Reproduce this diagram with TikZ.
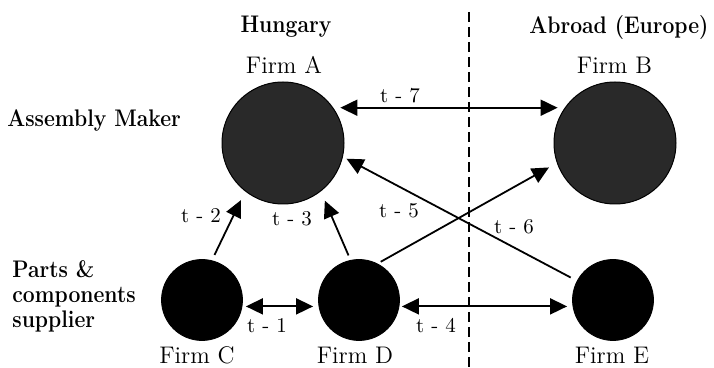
\documentclass[tikz,border=0pt]{standalone}
\usetikzlibrary{arrows.meta}
\newcommand\hdtext[1]{\scalebox{0.88}[1]{\bfseries #1}}
\begin{document}
\begin{tikzpicture}[x=0.5pt,y=-0.5pt,
  bigfirm/.style={circle,inner sep=0pt,minimum size=61pt,draw=black,line width=0.5pt,fill=black!84},
  smallfirm/.style={circle,inner sep=0pt,minimum size=40.5pt,fill=black,draw=black},
  firmlabel/.style={anchor=base,inner sep=0pt,font=\fontsize{12}{14}\selectfont},
  tlabel/.style={anchor=base,inner sep=0pt,font=\fontsize{10.5}{12}\selectfont},
  headlabel/.style={inner sep=0pt,font=\fontsize{12}{12.5}\selectfont},
  conn/.style={line width=0.9pt},
  sgl/.style={conn,-{Triangle[length=8.5pt,width=8pt]}},
  dbl/.style={conn,{Triangle[length=8.5pt,width=8pt]}-{Triangle[length=8.5pt,width=8pt]}}]
\useasboundingbox (0,0) rectangle (714,368);

% divider
\coordinate (dtop) at (469,12);
\coordinate (dbot) at (469,368);
\draw[line width=0.7pt,dash pattern=on 5pt off 2.5pt] (dtop) -- (dbot);

% headers
\node[headlabel,anchor=base] (hun) at (286,33) {\hdtext{Hungary}};
\node[headlabel,anchor=base west] (abr) at (529,34) {\hdtext{Abroad (Europe)}};
\node[headlabel,anchor=base west] (asm) at (7,127) {\hdtext{Assembly Maker}};
\node[headlabel,anchor=base west] (pcs) at (12,278) {\scalebox{0.88}[1]{\bfseries\begin{tabular}[t]{@{}l@{}}Parts \&\\components\\supplier\end{tabular}}};

% firms
\node[bigfirm] (A) at (283,143) {};
\node[bigfirm] (B) at (615,143) {};
\node[smallfirm] (C) at (202,300) {};
\node[smallfirm] (D) at (359,300) {};
\node[smallfirm] (E) at (613,300) {};

\node[firmlabel] (lA) at (284,74) {Firm A};
\node[firmlabel] (lB) at (614.5,74) {Firm B};
\node[firmlabel] (lC) at (197,364) {Firm C};
\node[firmlabel] (lD) at (355,364) {Firm D};
\node[firmlabel] (lE) at (612,364) {Firm E};

% connectors
\draw[dbl,shorten <=3.5pt,shorten >=3.5pt] (A.35) -- (B.145);
\draw[dbl,shorten <=1.75pt,shorten >=2.75pt] (C.-9) -- (D.189);
\draw[dbl,shorten <=1.25pt,shorten >=2.75pt] (D.-9) -- (E.189);
\draw[sgl,shorten <=3pt,shorten >=4.8pt] (C.76) -- (A.232);
\draw[sgl,shorten <=2.5pt,shorten >=5pt] (D.102) -- (A.308);
\draw[sgl,shorten <=1.8pt,shorten >=4.5pt] (D.63) -- (B.199);
\draw[sgl,shorten <=3.5pt,shorten >=2pt] (E.152) -- (A.347);

% connector labels
\node[tlabel] (t7) at (400,103) {t - 7};
\node[tlabel] (t1) at (267,333) {t - 1};
\node[tlabel] (t4) at (436,333) {t - 4};
\node[tlabel] (t2) at (201,223) {t - 2};
\node[tlabel] (t3) at (292,226) {t - 3};
\node[tlabel] (t5) at (399,218) {t - 5};
\node[tlabel] (t6) at (514,234) {t - 6};
\end{tikzpicture}
\end{document}
